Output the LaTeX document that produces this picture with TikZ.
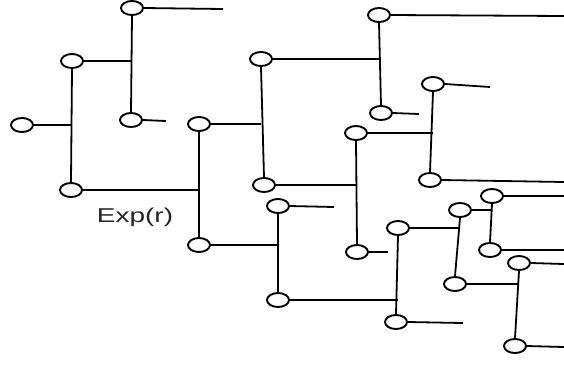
\documentclass[tikz,border=0pt]{standalone}
\usepackage{fontspec}
\setmainfont{Liberation Sans}
\usetikzlibrary{shapes.geometric}
\begin{document}
\begin{tikzpicture}[x=1pt,y=-1pt,
  nd/.style={draw=black,ellipse,line width=1.9pt,minimum width=22pt,minimum height=14pt,inner sep=0pt,fill=white},
  ln/.style={draw=black,line width=1.8pt},
  lbl/.style={inner sep=0pt,text=black!85}]
\useasboundingbox (0,0) rectangle (564,368);
% nodes
\node[nd] (A) at (22,125) {};
\node[nd] (B) at (72,61) {};
\node[nd] (C) at (71,190) {};
\node[nd] (D) at (132,8) {};
\node[nd] (E) at (131,120) {};
\node[nd] (F) at (199,124) {};
\node[nd] (G) at (199,245) {};
\node[nd] (H) at (261,59) {};
\node[nd] (I) at (264,185) {};
\node[nd] (J) at (379,15) {};
\node[nd] (K) at (381,113) {};
\node[nd] (N) at (356,133) {};
\node[nd] (O) at (357,252) {};
\node[nd] (L) at (433,84) {};
\node[nd] (M) at (430,180) {};
\node[nd] (P) at (278,206) {};
\node[nd] (Q) at (278,300) {};
\node[nd] (R) at (398,228) {};
\node[nd] (S) at (396,322) {};
\node[nd] (T) at (460,210) {};
\node[nd] (U) at (455,284) {};
\node[nd] (V) at (492,196) {};
\node[nd] (W) at (490,250) {};
\node[nd] (X) at (519,263) {};
\node[nd] (Y) at (515,346) {};
\node[lbl] (exp) at (135,217) {\fontsize{20}{20}\selectfont\scalebox{1.4}[1]{Exp(r)}};
% free ends
\coordinate (dD) at (223,9);
\coordinate (dE) at (166,121);
\coordinate (dJ) at (564,16);
\coordinate (dK) at (419,114);
\coordinate (dL) at (490,87);
\coordinate (dM) at (564,182);
\coordinate (dO) at (388,252);
\coordinate (dP) at (334,207);
\coordinate (dS) at (463,323);
\coordinate (dV) at (564,196);
\coordinate (dW) at (564,250);
\coordinate (dX) at (564,264);
\coordinate (dY) at (564,347);
% verticals
\draw[ln] (B.south) -- (C.north);
\draw[ln] (D.south) -- (E.north);
\draw[ln] (F.south) -- (G.north);
\draw[ln] (H.south) -- (I.north);
\draw[ln] (J.south) -- (K.north);
\draw[ln] (N.south) -- (O.north);
\draw[ln] (L.south) -- (M.north);
\draw[ln] (P.south) -- (Q.north);
\draw[ln] (R.south) -- (S.north);
\draw[ln] (T.south) -- (U.north);
\draw[ln] (V.south) -- (W.north);
\draw[ln] (X.south) -- (Y.north);
% parent to branch
\draw[ln] (A.east) -- (A.east -| B.south);
\draw[ln] (B.east) -- (B.east -| D.south);
\draw[ln] (C.east) -- (C.east -| F.south);
\draw[ln] (F.east) -- (F.east -| H.south);
\draw[ln] (G.east) -- (G.east -| P.south);
\draw[ln] (H.east) -- (H.east -| J.south);
\draw[ln] (I.east) -- (I.east -| N.south);
\draw[ln] (N.east) -- (N.east -| L.south);
\draw[ln] (Q.east) -- (Q.east -| R.south);
\draw[ln] (R.east) -- (R.east -| T.south);
\draw[ln] (T.east) -- (T.east -| V.south);
\draw[ln] (U.east) -- (U.east -| X.south);
% leaves
\draw[ln] (D.east) -- (dD);
\draw[ln] (E.east) -- (dE);
\draw[ln] (J.east) -- (dJ);
\draw[ln] (K.east) -- (dK);
\draw[ln] (L.east) -- (dL);
\draw[ln] (M.east) -- (dM);
\draw[ln] (O.east) -- (dO);
\draw[ln] (P.east) -- (dP);
\draw[ln] (S.east) -- (dS);
\draw[ln] (V.east) -- (dV);
\draw[ln] (W.east) -- (dW);
\draw[ln] (X.east) -- (dX);
\draw[ln] (Y.east) -- (dY);
\end{tikzpicture}
\end{document}
